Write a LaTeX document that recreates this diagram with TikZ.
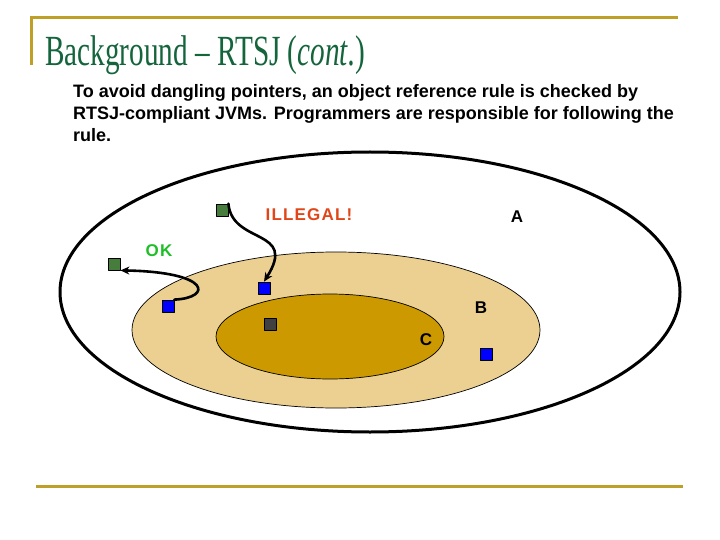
\documentclass[tikz,border=0pt]{standalone}
\usepackage{fontspec}
\setmainfont{Liberation Serif}
\newfontfamily\titlefont[FakeStretch=0.68, Ligatures=TeX]{Liberation Serif}
\newfontfamily\bodyfont{Liberation Sans}
\newfontfamily\lblfont[LetterSpace=7]{Liberation Sans}
\usetikzlibrary{arrows.meta}

\definecolor{rulegold}{RGB}{190,160,40}
\definecolor{titlegreen}{RGB}{20,100,60}
\definecolor{scopeB}{RGB}{235,208,145}
\definecolor{scopeC}{RGB}{204,153,0}
\definecolor{illegalred}{RGB}{225,70,25}
\definecolor{okgreen}{RGB}{30,190,40}
\definecolor{objgreen}{RGB}{70,125,60}
\definecolor{objblue}{RGB}{0,0,255}
\definecolor{objgray}{RGB}{64,64,64}

\tikzset{
  obj/.style={draw=black, line width=0.8pt, minimum size=12pt, inner sep=0pt},
  scopelbl/.style={font=\lblfont\bfseries\fontsize{17}{18}\selectfont},
  refarrow/.style={-{Stealth[length=9pt,width=8pt]}, line width=2.6pt}
}

\begin{document}
\begin{tikzpicture}[x=1pt, y=-1pt, line cap=round, line join=round]
  \useasboundingbox (0,0) rectangle (720,540);

  % Slide rules
  \draw[rulegold, line width=3pt, line cap=butt] (30,18) -- (678,18);
  \draw[rulegold, line width=3pt, line cap=butt] (31,17) -- (31,65);
  \draw[rulegold, line width=3pt, line cap=butt] (36,486) -- (683,486);

  % Title and text
  \node[anchor=base west, inner sep=0pt, text=titlegreen,
        font=\titlefont\fontsize{43}{46}\selectfont] (title) at (45,66)
        {Background \textendash{} RTSJ (\textit{cont.})};
  \node[anchor=base west, inner sep=0pt, align=left,
        font=\bodyfont\bfseries\fontsize{18}{22}\selectfont] (rule) at (73,142)
        {To avoid dangling pointers, an object reference rule is checked by\\
         RTSJ-compliant JVMs. Programmers are responsible for following the\\
         rule.};

  % Memory areas
  \draw[line width=3pt] (370,292) ellipse [x radius=310, y radius=140];
  \draw[fill=scopeB, line width=0.7pt] (336,330) ellipse [x radius=204, y radius=78];
  \draw[fill=scopeC, line width=0.7pt] (330,336.5) ellipse [x radius=114, y radius=42.5];

  % Area labels
  \node[scopelbl] (lblA) at (517,217) {A};
  \node[scopelbl] (lblB) at (481,308) {B};
  \node[scopelbl] (lblC) at (426,340) {C};
  \node[scopelbl, text=illegalred] (illegal) at (309,215) {ILLEGAL!};
  \node[scopelbl, text=okgreen] (ok) at (159,251) {OK};

  % Objects
  \node[obj, fill=objgreen] (g1) at (222,210) {};
  \node[obj, fill=objgreen] (g2) at (114,264) {};
  \node[obj, fill=objblue] (b1) at (168,306) {};
  \node[obj, fill=objblue] (b2) at (264,288) {};
  \node[obj, fill=objgray] (d1) at (270,324) {};
  \node[obj, fill=objblue] (b3) at (486,354) {};

  % References
  \draw[refarrow] (g1.north east) .. controls (232,245) and (298,228) .. (b2.north);
  \draw[refarrow] (b1.north east) .. controls (212,298) and (212,272) .. (g2.south east);
\end{tikzpicture}
\end{document}
